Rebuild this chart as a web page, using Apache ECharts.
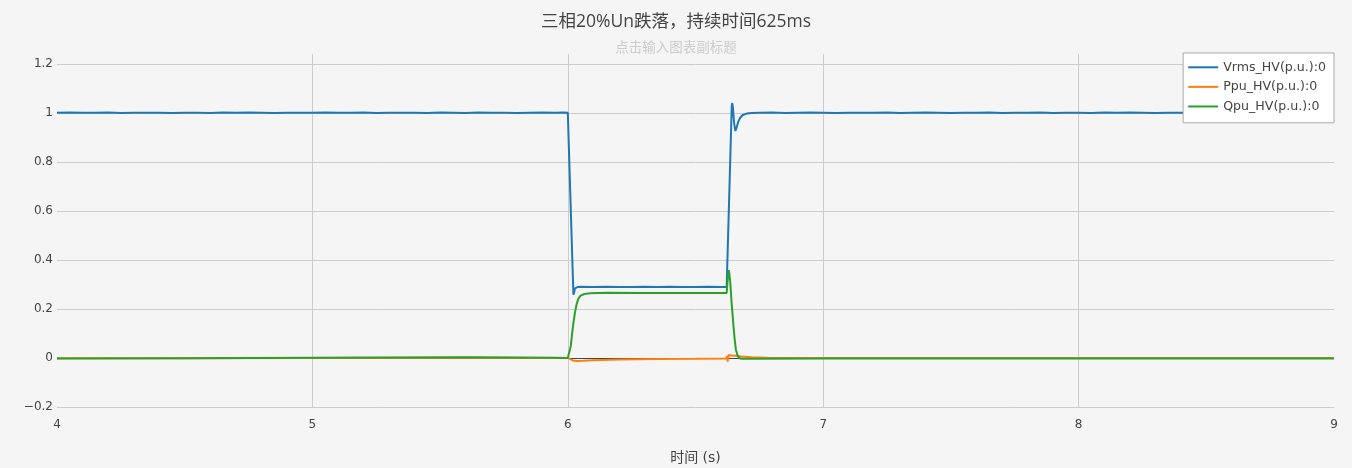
<!DOCTYPE html>
<html>
<head>
<meta charset="utf-8">
<script src="https://cdn.jsdelivr.net/npm/echarts@6/dist/echarts.min.js"></script>
<style>
html,body{margin:0;padding:0;background:#f5f5f5;}
#chart{width:1352px;height:468px;}
</style>
</head>
<body>
<div id="chart"></div>
<script>
var titleText = '三相20%Un跌落，持续时间625ms';
var subTitleText = '点击输入图表副标题';
var xAxisName = '时间 (s)';
var seriesNames = ['Vrms_HV(p.u.):0', 'Ppu_HV(p.u.):0', 'Qpu_HV(p.u.):0'];
var seriesColors = ['#1f77b4', '#ff7f0e', '#2ca02c'];

// Vrms: pre-fault plateau, sampled every 0.05 s from 4.00
var vrmsPreT0 = 4.0, vrmsStep = 0.05;
var vrmsPre = [1.000,1.001,1.000,1.000,1.001,0.999,1.000,1.000,1.000,0.999,
               1.000,1.000,0.999,1.001,1.000,1.001,1.000,0.999,1.000,1.000,
               1.000,1.001,1.000,1.000,1.001,0.999,1.000,1.000,1.000,0.999,
               1.001,1.000,0.999,1.001,1.000,1.000,0.999,1.000,1.001,1.000];
// Vrms: fault and recovery
var vrmsFault = [[5.98,1.001],[6.000,1.000],[6.001,0.998],[6.022,0.258],[6.025,0.268],[6.028,0.284],[6.032,0.292],[6.04,0.290],
                 [6.05,0.291],[6.10,0.290],[6.15,0.291],[6.20,0.290],[6.25,0.290],[6.30,0.291],[6.35,0.290],[6.40,0.291],
                 [6.45,0.290],[6.50,0.290],[6.55,0.291],[6.60,0.290],[6.622,0.290],[6.642,1.030],[6.644,1.040],[6.647,1.015],
                 [6.651,0.960],[6.656,0.926],[6.661,0.940],[6.667,0.963],[6.675,0.980],[6.685,0.991],[6.70,0.997],[6.72,0.999],[6.75,1.000]];
// Vrms: post-fault plateau, sampled every 0.05 s from 6.80
var vrmsPostT0 = 6.8;
var vrmsPost = [1.001,0.999,1.000,1.001,1.000,0.999,1.000,1.000,1.000,1.001,
                0.999,1.000,1.001,1.000,0.999,1.000,1.000,1.001,0.999,1.000,
                1.000,1.001,0.999,1.000,1.000,0.999,1.001,1.000,1.001,1.000,
                0.999,1.000,1.000,0.999,1.000,1.001,1.000,0.999,1.000,1.000,
                1.000,0.999,1.000,1.000,0.999];
var ppuData = [[4.0,-0.001],[4.5,-0.001],[5.0,0.0],[5.6,0.001],[5.9,0.0],[6.0,0.0],[6.008,-0.004],[6.02,-0.010],[6.035,-0.012],
               [6.06,-0.011],[6.10,-0.009],[6.20,-0.006],[6.35,-0.004],[6.50,-0.003],[6.620,-0.002],[6.624,0.008],[6.626,-0.015],
               [6.629,0.012],[6.632,0.004],[6.640,0.010],[6.660,0.009],[6.680,0.006],[6.720,0.003],[6.780,0.001],[7.0,0.0],[8.0,0.0],[9.0,0.0]];
var qpuData = [[4.0,-0.002],[4.5,-0.001],[5.0,0.001],[5.3,0.002],[5.6,0.003],[5.8,0.002],[5.95,0.001],[6.0,0.0],[6.006,0.0],
               [6.012,0.05],[6.017,0.10],[6.022,0.143],[6.028,0.185],[6.035,0.222],[6.042,0.243],[6.05,0.254],[6.065,0.261],
               [6.087,0.264],[6.15,0.266],[6.30,0.265],[6.45,0.265],[6.622,0.265],[6.627,0.33],[6.631,0.358],[6.636,0.31],
               [6.641,0.23],[6.648,0.14],[6.653,0.08],[6.658,0.035],[6.664,0.012],[6.670,0.0],[6.68,-0.003],[6.72,-0.003],
               [7.0,-0.002],[8.0,-0.002],[9.0,-0.002]];

var xMin = 4, xMax = 9, xInterval = 1;
var yMin = -0.2, yMax = 1.24, yInterval = 0.2;

var vrmsData = [];
vrmsPre.forEach(function (v, i) { vrmsData.push([+(vrmsPreT0 + i * vrmsStep).toFixed(3), v]); });
vrmsFault.forEach(function (p) { vrmsData.push(p); });
vrmsPost.forEach(function (v, i) { vrmsData.push([+(vrmsPostT0 + i * vrmsStep).toFixed(3), v]); });

var font = '"DejaVu Sans", "Noto Sans CJK SC", sans-serif';
var titleFont = '"Open Sans", "Noto Sans CJK SC", sans-serif';
function fmt(v) {
  var s = String(+v.toFixed(2));
  return v < 0 ? '\u2212' + s.replace('-', '') : s;
}
var splitColors = ['#cccccc', '#444444', '#cccccc', '#cccccc', '#cccccc', '#cccccc', '#cccccc', '#cccccc', '#cccccc'];

var chart = echarts.init(document.getElementById('chart'));
chart.setOption({
  backgroundColor: '#f5f5f5',
  animation: false,
  title: {
    text: titleText,
    subtext: subTitleText,
    left: 'center',
    top: 8,
    itemGap: 11,
    textStyle: { fontFamily: titleFont, fontSize: 17.5, fontWeight: 'normal', color: '#444' },
    subtextStyle: { fontFamily: titleFont, fontSize: 13.5, color: '#cccccc' }
  },
  legend: {
    orient: 'vertical',
    right: 18,
    top: 53,
    padding: [8, 8, 10, 5],
    itemGap: 7,
    itemWidth: 30,
    itemHeight: 2,
    icon: 'rect',
    backgroundColor: '#ffffff',
    borderColor: '#aaaaaa',
    borderWidth: 1,
    borderRadius: 0,
    textStyle: { fontFamily: font, fontSize: 12.6, color: '#444' },
    data: seriesNames
  },
  grid: { left: 57, right: 18, top: 54, bottom: 61, containLabel: false, outerBoundsMode: 'none' },
  xAxis: {
    type: 'value',
    min: xMin, max: xMax, interval: xInterval,
    name: xAxisName,
    nameLocation: 'middle',
    nameGap: 44,
    nameTextStyle: { fontFamily: font, fontSize: 14, color: '#444' },
    axisLine: { show: false },
    axisTick: { show: false },
    axisLabel: { fontFamily: font, fontSize: 12, color: '#444', margin: 12 },
    splitLine: { show: true, showMinLine: false, showMaxLine: false, lineStyle: { color: '#cccccc', width: 1 } }
  },
  yAxis: {
    type: 'value',
    min: yMin, max: yMax, interval: yInterval,
    axisLine: { show: false },
    axisTick: { show: false },
    axisLabel: { fontFamily: font, fontSize: 12, color: '#444', margin: 4, showMaxLabel: false, formatter: fmt },
    splitLine: { show: true, showMaxLine: false, lineStyle: { color: splitColors, width: 1 } }
  },
  series: [
    { name: seriesNames[0], type: 'line', data: vrmsData, showSymbol: false, symbol: 'none', lineStyle: { width: 2, color: seriesColors[0] }, itemStyle: { color: seriesColors[0] } },
    { name: seriesNames[1], type: 'line', data: ppuData, showSymbol: false, symbol: 'none', lineStyle: { width: 2, color: seriesColors[1] }, itemStyle: { color: seriesColors[1] } },
    { name: seriesNames[2], type: 'line', data: qpuData, showSymbol: false, symbol: 'none', lineStyle: { width: 2, color: seriesColors[2] }, itemStyle: { color: seriesColors[2] } }
  ]
});
</script>
</body>
</html>
